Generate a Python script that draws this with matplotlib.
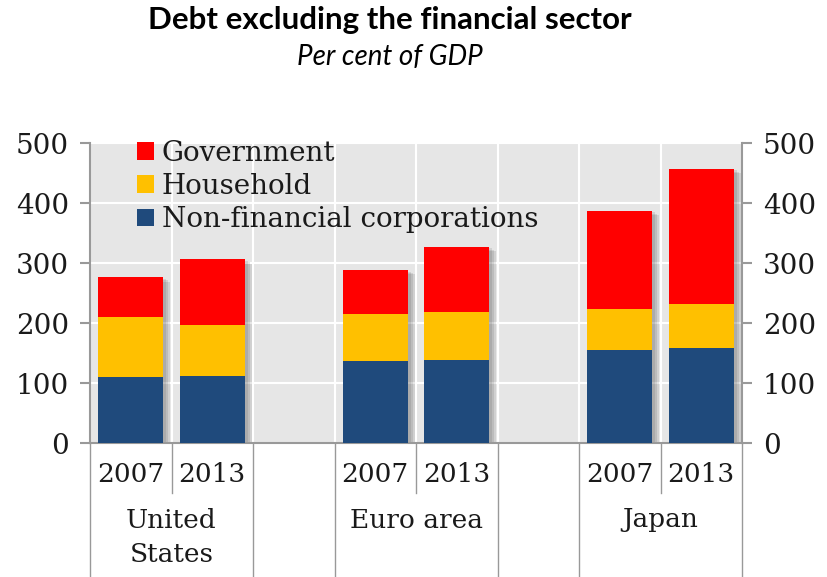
import matplotlib.pyplot as plt
import matplotlib.patheffects as pe
import matplotlib.transforms as mtransforms

# Data (per cent of GDP)
regions = ['United\nStates', 'Euro area', 'Japan']
years = ['2007', '2013']
nonfin_corp = [110, 112, 137, 138, 155, 159]
household = [100, 84, 78, 81, 68, 72]
government = [66, 110, 73, 108, 164, 226]
yticks = [0, 100, 200, 300, 400, 500]

# bar slots: two per region, one empty slot between regions
slots = [0, 1, 3, 4, 6, 7]
xpos = [s + 0.5 for s in slots]

fig = plt.figure(figsize=(8.27, 5.77), dpi=100)
ax = fig.add_axes([90 / 827, 1 - 443 / 577, (742 - 90) / 827, 300 / 577])
ax.set_facecolor('#e6e6e6')

# soft drop shadow to the right of each stack
shadow = [pe.SimplePatchShadow(offset=(o, -o * 0.6), alpha=0.12, shadow_rgbFace='#333333')
          for o in (2, 3.5, 5)] + [pe.Normal()]

hh_bottom = nonfin_corp
gov_bottom = [a + b for a, b in zip(nonfin_corp, household)]
totals = [g + b for g, b in zip(government, gov_bottom)]
ax.bar(xpos, totals, width=0.8, color='#e6e6e6', zorder=2, path_effects=shadow)
b1 = ax.bar(xpos, nonfin_corp, width=0.8, color='#1f4a7c', label='Non-financial corporations', zorder=3)
b2 = ax.bar(xpos, household, width=0.8, bottom=hh_bottom, color='#ffc000', label='Household', zorder=3)
b3 = ax.bar(xpos, government, width=0.8, bottom=gov_bottom, color='#ff0000', label='Government', zorder=3)

ax.set_xlim(0, 8)
ax.set_ylim(0, 500)
ax.set_yticks(yticks)
ax.set_xticks(range(9))
ax.set_xticklabels([])
ax.grid(True, color='white', lw=1.5, zorder=0)
ax.set_axisbelow(True)

ax.spines['top'].set_visible(False)
for s in ['left', 'right', 'bottom']:
    ax.spines[s].set_color('#999999')
    ax.spines[s].set_linewidth(1.5)

ax.tick_params(axis='y', left=True, right=True, labelleft=True, labelright=True,
               length=7, width=1.5, color='#999999', labelsize=20, pad=8, labelcolor='#1a1a1a')
ax.tick_params(axis='x', length=0)
for t in ax.yaxis.get_major_ticks():
    t.label1.set_family('DejaVu Serif')
    t.label2.set_family('DejaVu Serif')

# category separators and labels below the axis
trans = mtransforms.blended_transform_factory(ax.transData, ax.transAxes)
for x in range(9):
    short = x in (1, 4, 7)
    ax.plot([x, x], [0, -0.167 if short else -0.45], transform=trans, color='#999999',
            lw=1, clip_on=False)
for i, x in enumerate(xpos):
    ax.text(x, -0.105, years[i % 2], transform=trans, ha='center', va='center',
            fontsize=19, family='DejaVu Serif', color='#1a1a1a')
for j, r in enumerate(regions):
    ax.text(slots[2 * j] + 1, -0.215, r, transform=trans, ha='center', va='top',
            fontsize=19, family='DejaVu Serif', color='#1a1a1a', linespacing=1.5)

leg = ax.legend(handles=[b3, b2, b1], loc='upper left', bbox_to_anchor=(0.072, 1.01),
                frameon=False, handlelength=0.6, handleheight=0.6, handletextpad=0.3,
                labelspacing=0.22, borderpad=0, borderaxespad=0,
                prop={'family': 'DejaVu Serif', 'size': 20})
for t in leg.get_texts():
    t.set_color('#1a1a1a')

fig.text(390 / 827, 1 - 20 / 577, 'Debt excluding the financial sector', ha='center', va='center',
         fontsize=22.5, fontweight='bold', family='Lato')
fig.text(390 / 827, 1 - 57 / 577, 'Per cent of GDP', ha='center', va='center',
         fontsize=20, style='italic', family='Lato')

fig.savefig('out.png', dpi=100)
